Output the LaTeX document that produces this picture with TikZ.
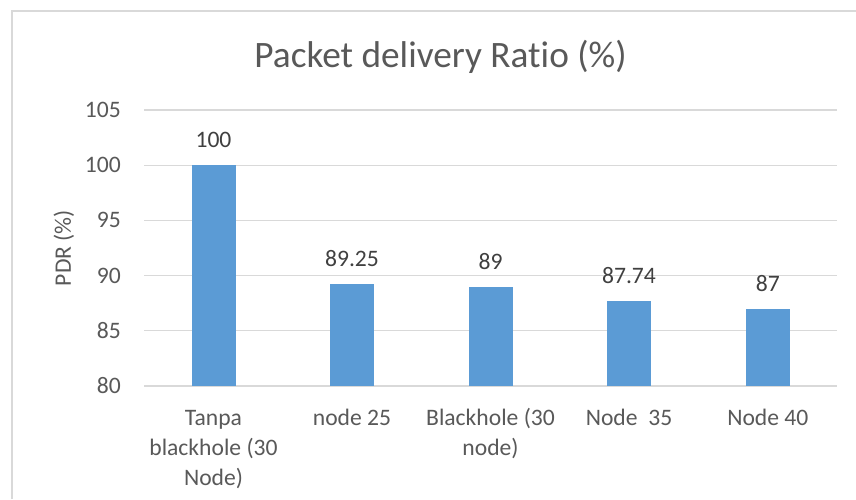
\documentclass[tikz,border=0pt]{standalone}
\usepackage{fontspec}
\setmainfont{Carlito}[Ligatures={NoCommon}]
\definecolor{barblue}{HTML}{5B9BD5}
\definecolor{gridgray}{HTML}{D9D9D9}
\definecolor{axistext}{HTML}{595959}
\definecolor{datatext}{HTML}{404040}
\tikzset{
  gridline/.style={draw=gridgray, line width=1.2pt},
  bar/.style={fill=barblue, draw=none},
  ticklabel/.style={anchor=east, inner sep=0pt, text=axistext, font=\fontsize{23.6}{28}\selectfont},
  datalabel/.style={anchor=base, inner sep=0pt, text=datatext, font=\fontsize{23.6}{28}\selectfont},
  catlabel/.style={anchor=base, inner sep=0pt, text=axistext, font=\fontsize{23.6}{30}\selectfont},
  charttitle/.style={anchor=base, inner sep=0pt, text=axistext, font=\fontsize{37.3}{44}\selectfont},
}
\newcommand{\catlines}[1]{{\setlength{\tabcolsep}{0pt}\renewcommand{\arraystretch}{1}\begin{tabular}[t]{c}#1\end{tabular}}}
\begin{document}
\begin{tikzpicture}[x=1pt, y=-1pt]
\useasboundingbox (0,0) rectangle (856,499);
\fill[white] (0,0) rectangle (856,499);
% chart border
\coordinate (bl) at (12,499);
\coordinate (tl) at (12,11);
\coordinate (tr) at (856,11);
\draw[draw=gridgray, line width=1.6pt] (bl) -- (tl) -- (tr);
% title
\node[charttitle] (title) at (440.5,67.3) {Packet delivery Ratio (\%)};
% gridlines and tick labels
\foreach \v/\yy in {80/386, 85/330.8, 90/275.6, 95/220.4, 100/165.2, 105/110} {
  \draw[gridline] (144,\yy) -- (837,\yy);
  \node[ticklabel] (t\v) at (121,\yy) {\v};
}
% axis title
\node[rotate=90, inner sep=0pt, text=axistext, font=\fontsize{23.6}{28}\selectfont] (ytitle) at (64,248) {PDR (\%)};
% bars
\foreach \i/\cx/\val/\lab in {1/213.5/100/100, 2/352/89.25/89.25, 3/490.5/89/89, 4/629/87.74/87.74, 5/767.8/87/87} {
  \pgfmathsetmacro{\top}{386-(\val-80)*11.04}
  \fill[bar] (\cx-22,386) rectangle (\cx+22,\top);
  \node[datalabel] (d\i) at (\cx,\top-17.5) {\lab};
}
% category labels
\node[catlabel] (c1) at (213.5,425) {\catlines{Tanpa\\blackhole (30\\Node)}};
\node[catlabel] (c2) at (352,425) {\catlines{node 25}};
\node[catlabel] (c3) at (490.5,425) {\catlines{Blackhole (30\\node)}};
\node[catlabel] (c4) at (629,425) {\catlines{Node~~35}};
\node[catlabel] (c5) at (767.8,425) {\catlines{Node 40}};
\end{tikzpicture}
\end{document}
